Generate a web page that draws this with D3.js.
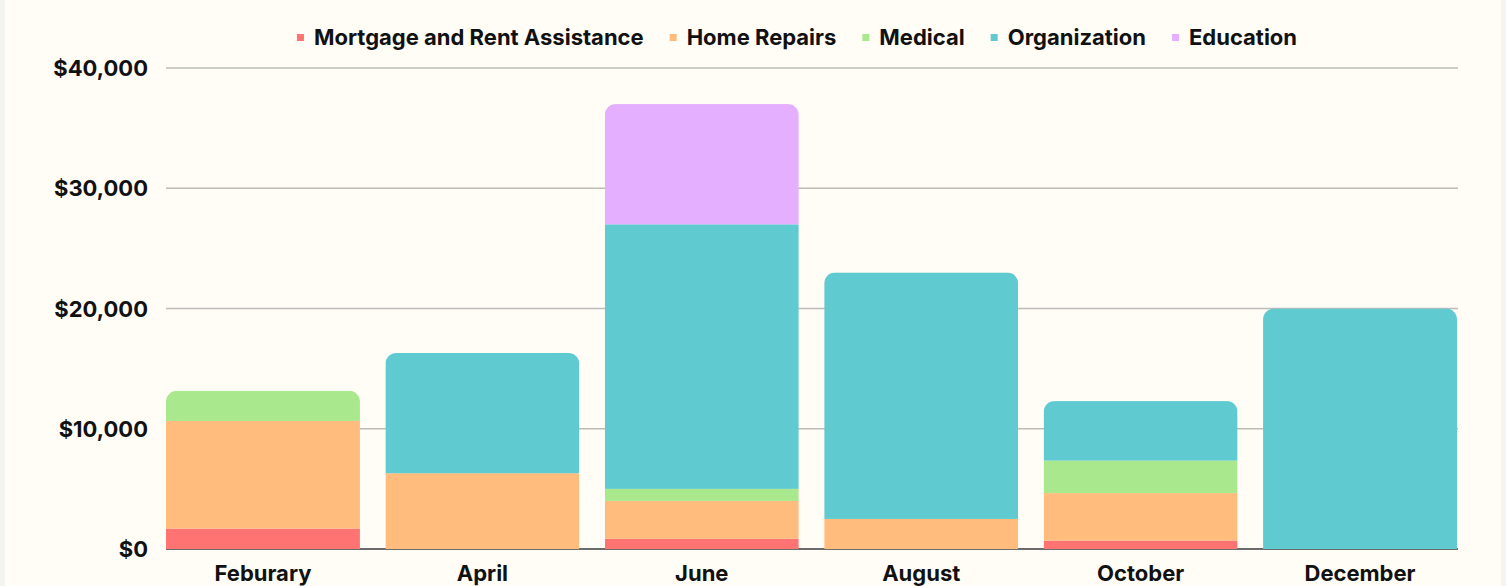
<!DOCTYPE html>
<html>
<head>
<meta charset="utf-8">
<script src="https://cdn.jsdelivr.net/npm/d3@7"></script>
<style>
  html, body { margin: 0; padding: 0; background: #f4f5f1; }
  svg { display: block; }
</style>
</head>
<body>
<svg id="chart"></svg>
<script>
const months = ['Feburary', 'April', 'June', 'August', 'October', 'December'];
const seriesNames = ['Mortgage and Rent Assistance', 'Home Repairs', 'Medical', 'Organization', 'Education'];
const mortgage = [1700, 0, 850, 0, 700, 0];
const homeRepairs = [8950, 6300, 3150, 2500, 3950, 0];
const medical = [2500, 0, 1000, 0, 2700, 0];
const organization = [0, 10000, 22000, 20500, 4950, 20000];
const education = [0, 0, 10000, 0, 0, 0];
const yTicks = [0, 10000, 20000, 30000, 40000];
const colors = ['#ff7373', '#ffbc7d', '#aae88e', '#5fcbd0', '#e4afff'];

const width = 1506, height = 586;
const margin = { top: 68, right: 49, bottom: 37, left: 166 };
const font = 'Inter, "Noto Sans", sans-serif';

// build table for stack
const table = months.map((m, i) => ({
  month: m,
  'Mortgage and Rent Assistance': mortgage[i],
  'Home Repairs': homeRepairs[i],
  'Medical': medical[i],
  'Organization': organization[i],
  'Education': education[i]
}));

const svg = d3.select('#chart')
  .attr('width', width)
  .attr('height', height);

// page background with light side strips
svg.append('rect')
  .attr('x', 5).attr('y', 0)
  .attr('width', width - 10).attr('height', height)
  .attr('fill', '#fffdf6');

const xScale = d3.scaleBand()
  .domain(months)
  .range([margin.left, width - margin.right])
  .paddingInner(0.116)
  .paddingOuter(0);

const yScale = d3.scaleLinear()
  .domain([0, 40000])
  .range([height - margin.bottom, margin.top]);

// grid lines
svg.selectAll('.y-grid-line')
  .data(yTicks.filter(d => d !== 0))
  .enter().append('line')
  .attr('class', 'y-grid-line')
  .attr('x1', margin.left)
  .attr('x2', width - margin.right + 1)
  .attr('y1', d => yScale(d))
  .attr('y2', d => yScale(d))
  .attr('stroke', '#bdbcb8')
  .attr('stroke-width', 1.5);

// baseline
svg.append('line')
  .attr('x1', margin.left)
  .attr('x2', width - margin.right + 1)
  .attr('y1', yScale(0))
  .attr('y2', yScale(0))
  .attr('stroke', '#6b6b69')
  .attr('stroke-width', 2);

// y axis labels
const yAxis = svg.append('g')
  .attr('transform', `translate(${margin.left - 18}, 0)`)
  .call(d3.axisLeft(yScale).tickValues(yTicks).tickSize(0).tickFormat(d => '$' + d3.format(',')(d)));

yAxis.select('.domain').remove();
yAxis.selectAll('.tick text')
  .attr('x', 0)
  .attr('dy', '0.35em')
  .attr('fill', '#111')
  .style('font-family', font)
  .style('font-size', '22px')
  .style('font-weight', 700);

// stacked bars
const stack = d3.stack().keys(seriesNames);
const layers = stack(table);

// rounded top corners: clip each bar's stack with a rounded rect
const defs = svg.append('defs');
months.forEach((m, i) => {
  const total = d3.sum(seriesNames, k => table[i][k]);
  defs.append('clipPath')
    .attr('id', 'clip-' + i)
    .append('rect')
    .attr('x', xScale(m))
    .attr('y', yScale(total))
    .attr('width', xScale.bandwidth())
    .attr('height', yScale(0) - yScale(total) + 20)
    .attr('rx', 11)
    .attr('ry', 11);
});

const barGroups = months.map((m, i) => svg.append('g').attr('clip-path', `url(#clip-${i})`));

layers.forEach((layer, li) => {
  layer.forEach((d, i) => {
    if (d[1] - d[0] <= 0) return;
    barGroups[i].append('rect')
      .attr('x', xScale(months[i]))
      .attr('y', yScale(d[1]))
      .attr('width', xScale.bandwidth())
      .attr('height', yScale(d[0]) - yScale(d[1]))
      .attr('fill', colors[li]);
  });
});

// x axis labels
const xAxis = svg.append('g')
  .attr('transform', `translate(0, ${yScale(0)})`)
  .call(d3.axisBottom(xScale).tickSize(0));

xAxis.select('.domain').remove();
xAxis.selectAll('.tick text')
  .attr('y', 0)
  .attr('dy', 32)
  .attr('fill', '#111')
  .style('font-family', font)
  .style('font-size', '22px')
  .style('font-weight', 700);

// legend
const legend = svg.append('g');
let lx = 0;
seriesNames.forEach((name, i) => {
  const item = legend.append('g').attr('transform', `translate(${lx}, 0)`);
  item.append('rect')
    .attr('x', 0).attr('y', -3.5)
    .attr('width', 7).attr('height', 7)
    .attr('fill', colors[i]);
  const t = item.append('text')
    .attr('x', 17)
    .attr('y', 0)
    .attr('dy', '0.35em')
    .attr('fill', '#111')
    .style('font-family', font)
    .style('font-size', '22px')
    .style('font-weight', 700)
    .text(name);
  lx += 17 + t.node().getComputedTextLength() + 26;
});
lx -= 26;
legend.attr('transform', `translate(${797 - lx / 2}, 37.5)`);
</script>
</body>
</html>
